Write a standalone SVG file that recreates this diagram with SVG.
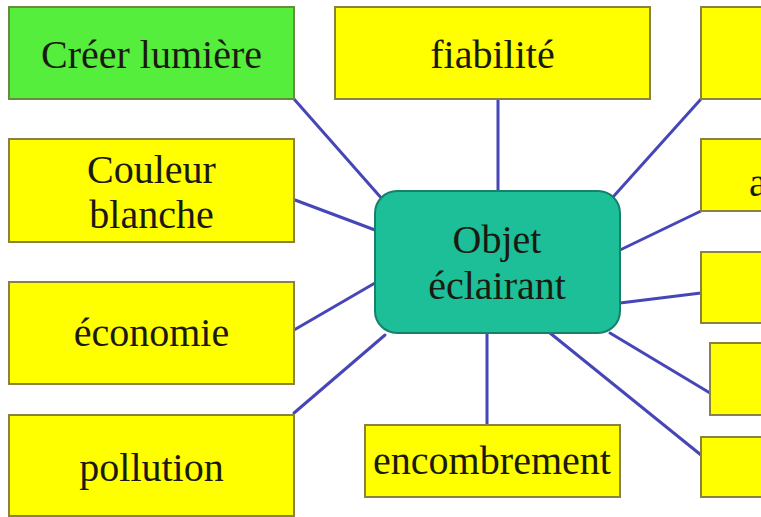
<svg xmlns="http://www.w3.org/2000/svg" width="761" height="517" viewBox="0 0 761 517">
<style>
.box{fill:#ffff00;stroke:#8a8240;stroke-width:2}
.green{fill:#55ee3c;stroke:#6a8a40;stroke-width:2}
.center{fill:#1cbf98;stroke:#16806a;stroke-width:2}
.t{font-family:"Liberation Serif","Times New Roman",serif;font-size:40px;fill:#1a1a10;text-anchor:middle}
.ln{stroke:#4646b8;stroke-width:3;fill:none;stroke-linecap:round}
</style>
<rect width="761" height="517" fill="#ffffff"/>
<g id="connectors" class="ln">
<line x1="294" y1="99" x2="383" y2="200"/>
<line x1="295" y1="200" x2="375" y2="230"/>
<line x1="294" y1="330" x2="375" y2="283"/>
<line x1="294" y1="413" x2="385" y2="335"/>
<line x1="498" y1="99" x2="498" y2="191"/>
<line x1="487" y1="333" x2="487" y2="425"/>
<line x1="613" y1="197" x2="701" y2="99"/>
<line x1="620" y1="250" x2="701" y2="211"/>
<line x1="620" y1="303" x2="701" y2="293"/>
<line x1="610" y1="333" x2="710" y2="393"/>
<line x1="550" y1="333" x2="701" y2="455"/>
</g>
<g id="n-creer"><rect class="green" x="9" y="7" width="285" height="92"/><text class="t" x="151.5" y="68">Créer lumière</text></g>
<g id="n-couleur"><rect class="box" x="9" y="139" width="285" height="103"/><text class="t" x="151.5" y="183">Couleur</text><text class="t" x="151.5" y="228">blanche</text></g>
<g id="n-economie"><rect class="box" x="9" y="282" width="285" height="102"/><text class="t" x="151.5" y="346">économie</text></g>
<g id="n-pollution"><rect class="box" x="9" y="415" width="285" height="101"/><text class="t" x="151.5" y="481">pollution</text></g>
<g id="n-fiabilite"><rect class="box" x="335" y="7" width="315" height="92"/><text class="t" x="492.5" y="68">fiabilité</text></g>
<g id="n-encombrement"><rect class="box" x="365" y="425" width="255" height="72"/><text class="t" x="492" y="474" textLength="238" lengthAdjust="spacingAndGlyphs">encombrement</text></g>
<g id="n-objet"><rect class="center" x="375" y="191" width="245" height="142" rx="22" ry="22"/><text class="t" x="497" y="253">Objet</text><text class="t" x="497" y="299">éclairant</text></g>
<g id="n-r1"><rect class="box" x="701" y="7" width="80" height="92"/></g>
<g id="n-r2"><rect class="box" x="701" y="139" width="80" height="72"/><text class="t" x="749" y="196" style="text-anchor:start">a</text></g>
<g id="n-r3"><rect class="box" x="701" y="252" width="80" height="71"/></g>
<g id="n-r4"><rect class="box" x="710" y="343" width="80" height="72"/></g>
<g id="n-r5"><rect class="box" x="701" y="437" width="80" height="60"/></g>
</svg>
